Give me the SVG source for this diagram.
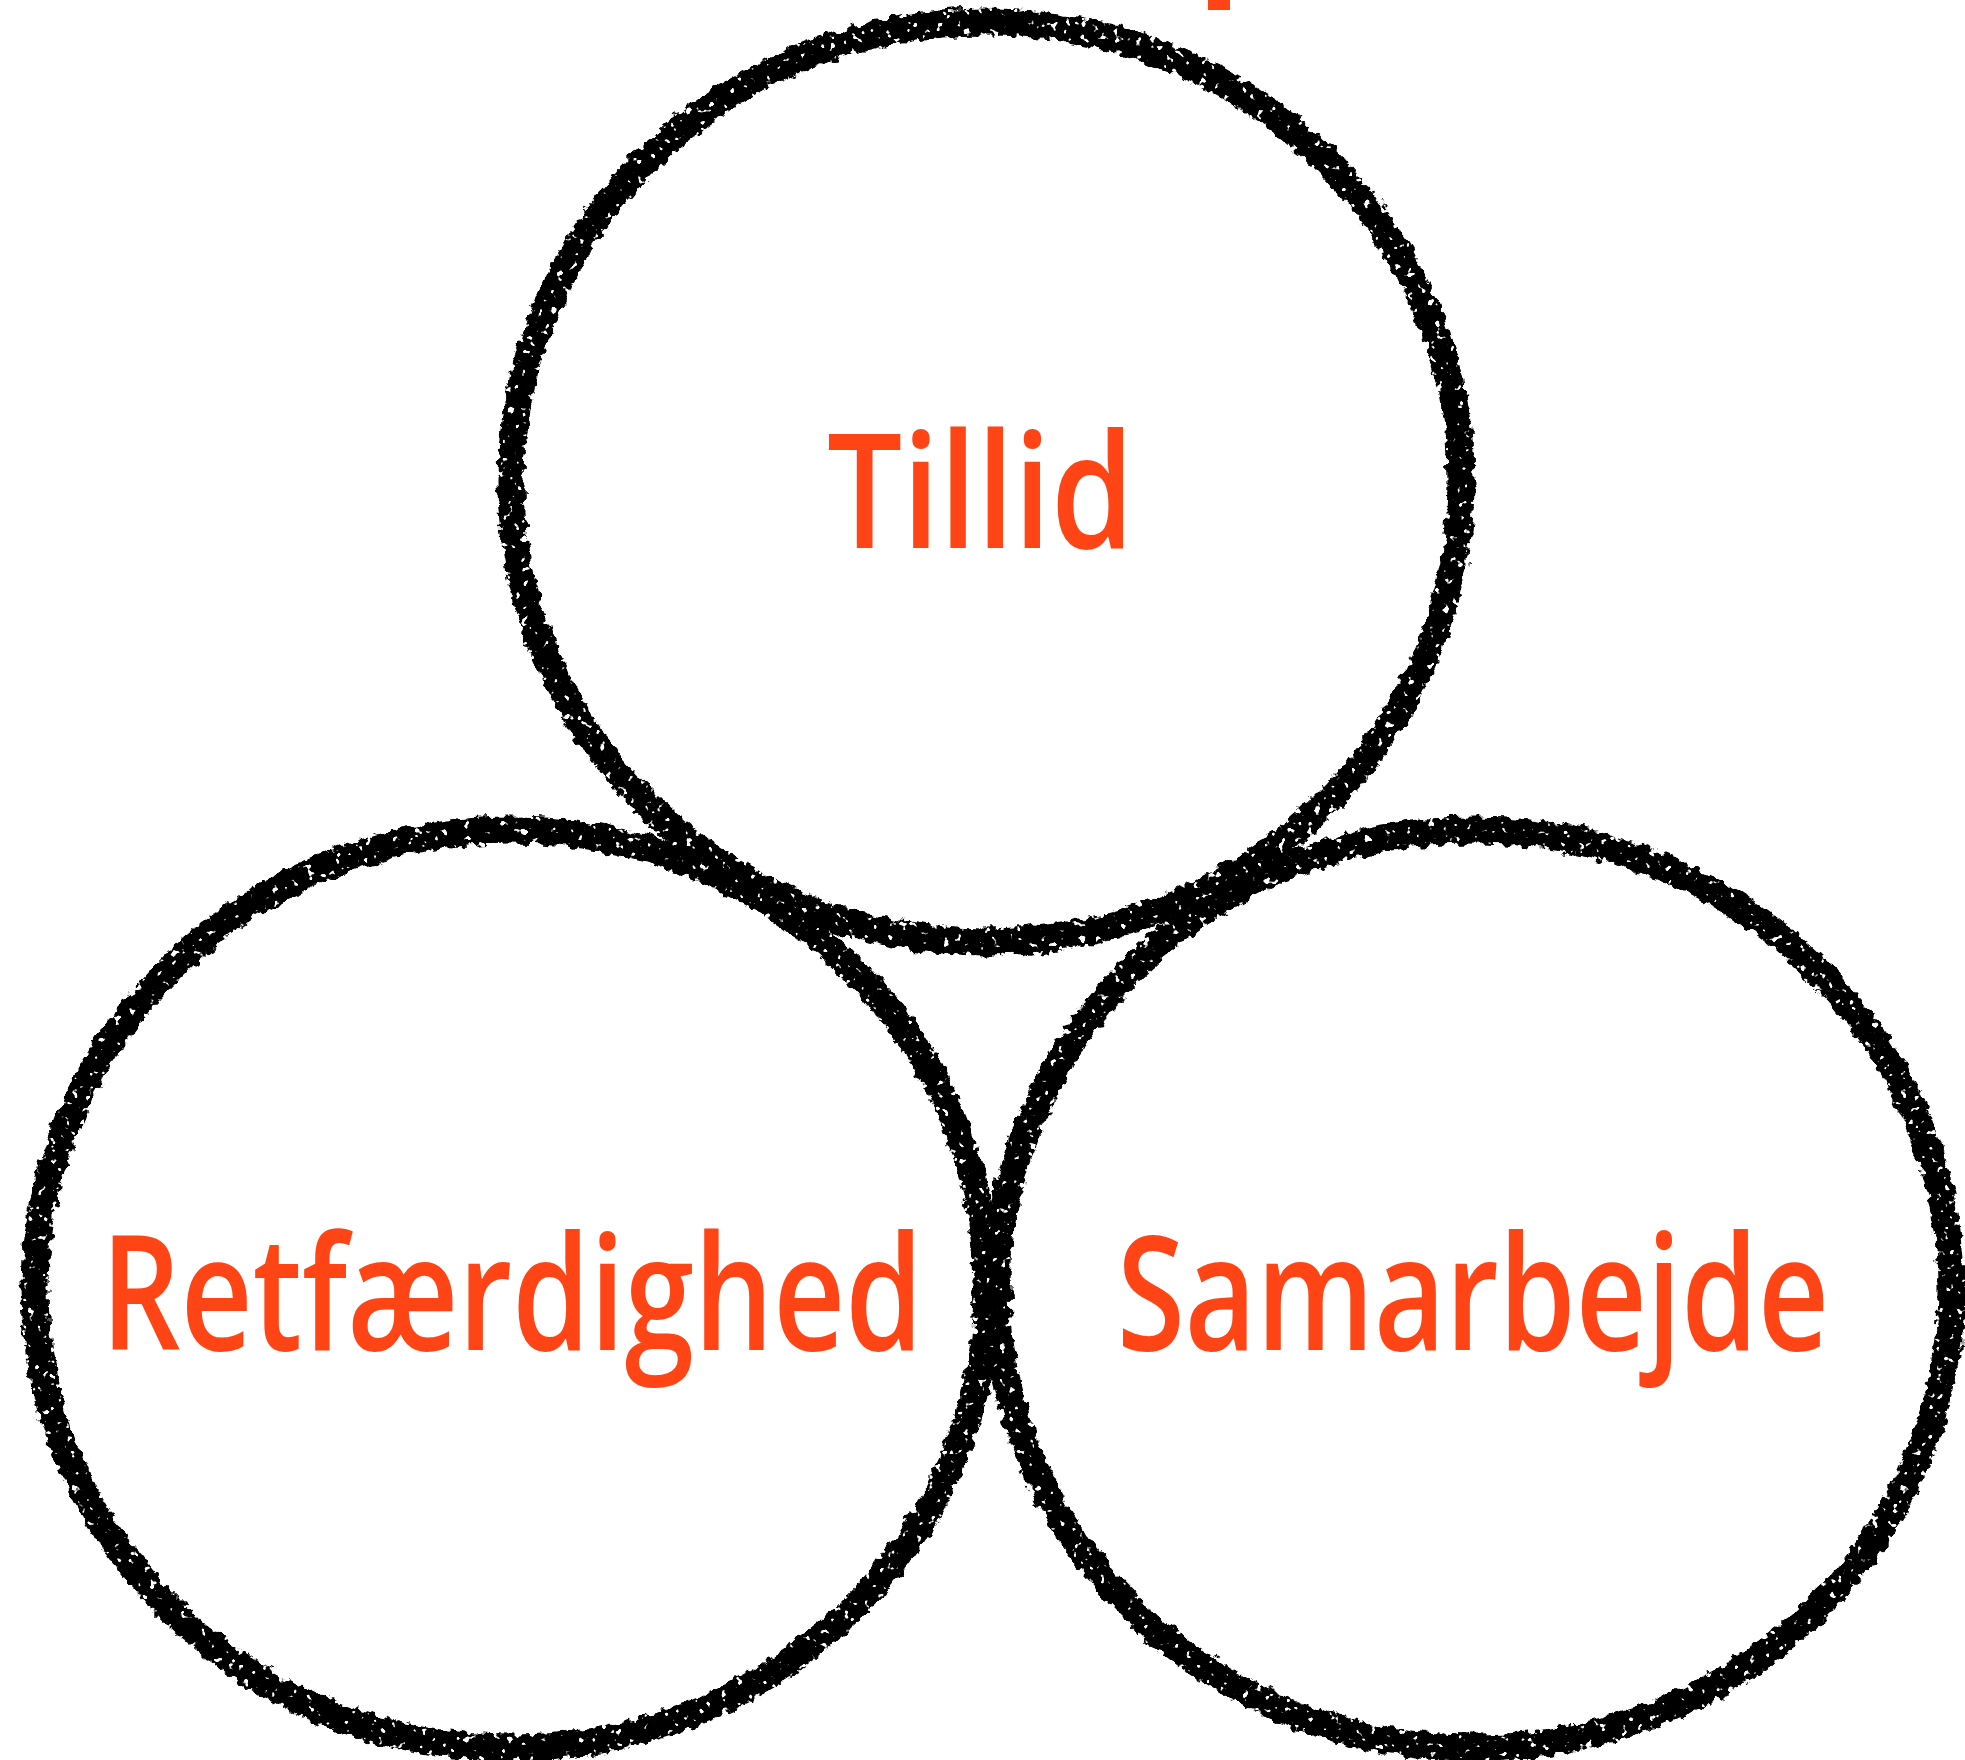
<svg xmlns="http://www.w3.org/2000/svg" width="1965" height="1760" viewBox="0 0 1965 1760">
  <defs>
    <filter id="chalk" x="-5%" y="-5%" width="110%" height="110%">
      <feTurbulence type="fractalNoise" baseFrequency="0.1" numOctaves="3" seed="3" result="n"/>
      <feDisplacementMap in="SourceGraphic" in2="n" scale="12" xChannelSelector="R" yChannelSelector="G" result="d"/>
      <feTurbulence type="fractalNoise" baseFrequency="0.14" numOctaves="2" seed="7" result="s"/>
      <feColorMatrix in="s" type="matrix" values="0 0 0 0 0  0 0 0 0 0  0 0 0 0 0  16 0 0 0 -10.6" result="holes"/>
      <feComposite in="d" in2="holes" operator="out"/>
    </filter>
  </defs>
  <style>
    .ring { fill: none; stroke: #000; stroke-width: 27; filter: url(#chalk); }
    .lbl { fill: #FF4516; font-family: "Ubuntu Condensed", "Open Sans", "Liberation Sans", sans-serif; font-size: 160px; font-weight: 600; }
  </style>
  <rect width="1965" height="1760" fill="#fff"/>
  <rect x="1208" y="0" width="22" height="10" fill="#FF4516"/>
  <g id="connectors"></g>
  <g id="node-tillid">
    <ellipse class="ring" cx="986" cy="482" rx="475" ry="460"/>
    <text class="lbl" x="827" y="548" textLength="307" lengthAdjust="spacingAndGlyphs">Tillid</text>
  </g>
  <g id="node-retfaerdighed">
    <ellipse class="ring" cx="511" cy="1289" rx="476" ry="459"/>
    <text class="lbl" x="101" y="1350" textLength="822" lengthAdjust="spacingAndGlyphs">Retfærdighed</text>
  </g>
  <g id="node-samarbejde">
    <ellipse class="ring" cx="1474" cy="1289" rx="477" ry="459"/>
    <text class="lbl" x="1117" y="1350" textLength="712" lengthAdjust="spacingAndGlyphs">Samarbejde</text>
  </g>
</svg>
